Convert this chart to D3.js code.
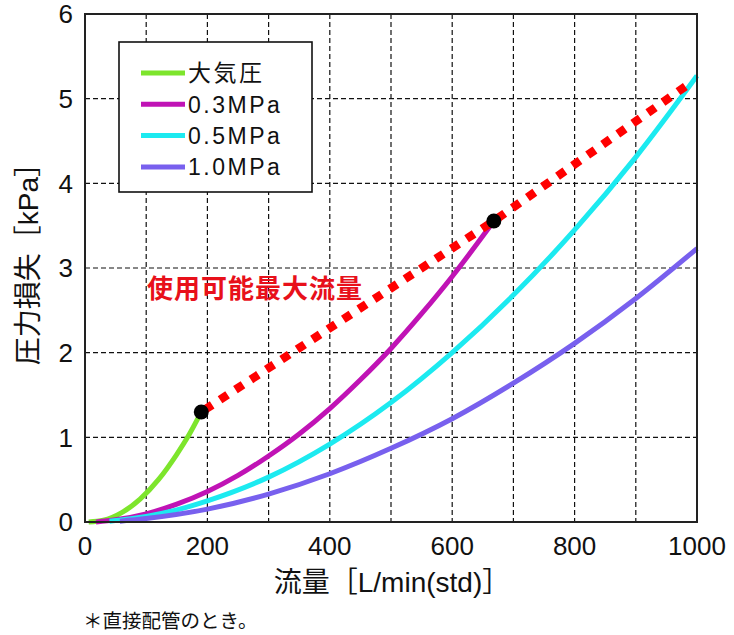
<!DOCTYPE html>
<html><head><meta charset="utf-8">
<script src="https://cdn.jsdelivr.net/npm/d3@7"></script>
<style>
html,body{margin:0;padding:0;background:#fff;}
text{font-family:"Liberation Sans",Arial,sans-serif;}
.cjk{font-family:"Noto Sans CJK JP","Noto Sans",sans-serif;}
</style></head>
<body>
<svg id="c" width="734" height="635"></svg>
<script>
// ---- data ----
const seriesNames = ["大気圧", "0.3MPa", "0.5MPa", "1.0MPa"];
const seriesColors = ["#7de52c", "#c013b5", "#1ceaf0", "#7860ee"];
const atmX = [6, 30, 60, 90, 120, 150, 170, 190];
const atmY = [0, 0.02, 0.11, 0.27, 0.50, 0.80, 1.03, 1.30];
const p03X = [18, 50, 100, 150, 200, 250, 300, 350, 400, 450, 500, 550, 600, 640, 668];
const p03Y = [0, 0.026, 0.096, 0.21, 0.36, 0.55, 0.78, 1.04, 1.34, 1.68, 2.05, 2.46, 2.90, 3.28, 3.555];
const p05X = [40, 100, 150, 200, 300, 400, 500, 600, 700, 800, 900, 1000];
const p05Y = [0.01, 0.066, 0.143, 0.25, 0.53, 0.92, 1.41, 2.00, 2.68, 3.45, 4.31, 5.27];
const p10X = [57, 100, 200, 300, 400, 500, 600, 700, 800, 900, 1000];
const p10Y = [0.01, 0.041, 0.152, 0.33, 0.57, 0.87, 1.22, 1.64, 2.11, 2.64, 3.23];
const maxFlowX = [190, 668, 992];
const maxFlowY = [1.30, 3.555, 5.2];
const dotX = [190, 668];
const dotY = [1.30, 3.555];
const xTicks = [0, 200, 400, 600, 800, 1000];
const yTicks = [0, 1, 2, 3, 4, 5, 6];
const xGrid = [100, 200, 300, 400, 500, 600, 700, 800, 900];
const yGrid = [1, 2, 3, 4, 5];

// ---- drawing ----
const svg = d3.select("#c");
const L = 85, R = 697, T = 14, B = 522;
const x = d3.scaleLinear().domain([0, 1000]).range([L, R]);
const y = d3.scaleLinear().domain([0, 6]).range([B, T]);

const g = svg.append("g");
g.selectAll(".gx").data(xGrid).join("line")
  .attr("x1", d => x(d)).attr("x2", d => x(d)).attr("y1", T).attr("y2", B)
  .attr("stroke", "#111").attr("stroke-width", 1.2).attr("stroke-dasharray", "5,3");
g.selectAll(".gy").data(yGrid).join("line")
  .attr("y1", d => y(d)).attr("y2", d => y(d)).attr("x1", L).attr("x2", R)
  .attr("stroke", "#111").attr("stroke-width", 1.2).attr("stroke-dasharray", "5,3");

// legend
const lg = svg.append("g");
lg.append("rect").attr("x", 119).attr("y", 42).attr("width", 193).attr("height", 150)
  .attr("fill", "#fff").attr("stroke", "#111").attr("stroke-width", 1.6);
seriesNames.forEach((n, i) => {
  const yy = 73 + i * 31.3;
  lg.append("line").attr("x1", 141).attr("x2", 185).attr("y1", yy).attr("y2", yy)
    .attr("stroke", seriesColors[i]).attr("stroke-width", 5);
  lg.append("text").attr("x", 188).attr("y", yy).attr("dy", "0.36em")
    .attr("class", i === 0 ? "cjk" : null)
    .style("font-size", "23px").style("letter-spacing", "2.5px").attr("fill", "#111").text(n);
});

// curves
const line = d3.line().x(d => x(d[0])).y(d => y(d[1])).curve(d3.curveMonotoneX);
const series = [[atmX, atmY], [p03X, p03Y], [p05X, p05Y], [p10X, p10Y]];
series.forEach((s, i) => {
  const pts = s[0].map((v, j) => [v, s[1][j]]);
  svg.append("path").datum(pts).attr("d", line).attr("fill", "none")
    .attr("stroke", seriesColors[i]).attr("stroke-width", 5);
});

// max flow dashed line
const mf = maxFlowX.map((v, j) => [v, maxFlowY[j]]);
svg.append("path").datum(mf).attr("d", d3.line().x(d => x(d[0])).y(d => y(d[1])))
  .attr("fill", "none").attr("stroke", "#ff0000").attr("stroke-width", 8.5)
  .attr("stroke-dasharray", "9,9.4").attr("stroke-dashoffset", -4);

svg.selectAll(".dot").data(dotX).join("circle")
  .attr("cx", d => x(d)).attr("cy", (d, i) => y(dotY[i])).attr("r", 7.5).attr("fill", "#000");

// frame
svg.append("rect").attr("x", L).attr("y", T).attr("width", R - L).attr("height", B - T)
  .attr("fill", "none").attr("stroke", "#222").attr("stroke-width", 2);

// tick labels
svg.selectAll(".xt").data(xTicks).join("text")
  .attr("x", d => x(d)).attr("y", 555).attr("text-anchor", "middle")
  .style("font-size", "26px").attr("fill", "#111").text(d => d);
svg.selectAll(".yt").data(yTicks).join("text")
  .attr("x", 73).attr("y", d => y(d)).attr("dy", "0.36em").attr("text-anchor", "end")
  .style("font-size", "26px").attr("fill", "#111").text(d => d);

// annotation
svg.append("text").attr("class", "cjk").attr("x", 147).attr("y", 298)
  .style("font-size", "26px").style("font-weight", "bold").style("letter-spacing", "1px")
  .attr("fill", "#e8101a").text("使用可能最大流量");

// axis titles (CJK + Latin mixed)
function mixed(sel, parts) {
  parts.forEach(p => {
    sel.append("tspan").attr("class", p[1] ? "cjk" : null).text(p[0]);
  });
}
const xt = svg.append("text").attr("x", 392).attr("y", 592).attr("text-anchor", "middle")
  .style("font-size", "28px").attr("fill", "#111");
mixed(xt, [["流量［", true], ["L/min(std)", false], ["］", true]]);
const yt = svg.append("text").attr("transform", "translate(38,257) rotate(-90)")
  .attr("text-anchor", "middle").style("font-size", "28px").attr("fill", "#111");
mixed(yt, [["圧力損失［", true], ["kPa", false], ["］", true]]);

// footnote
svg.append("text").attr("class", "cjk").attr("x", 83).attr("y", 628)
  .style("font-size", "19.5px").attr("fill", "#111").text("＊直接配管のとき。");
</script>
</body></html>
